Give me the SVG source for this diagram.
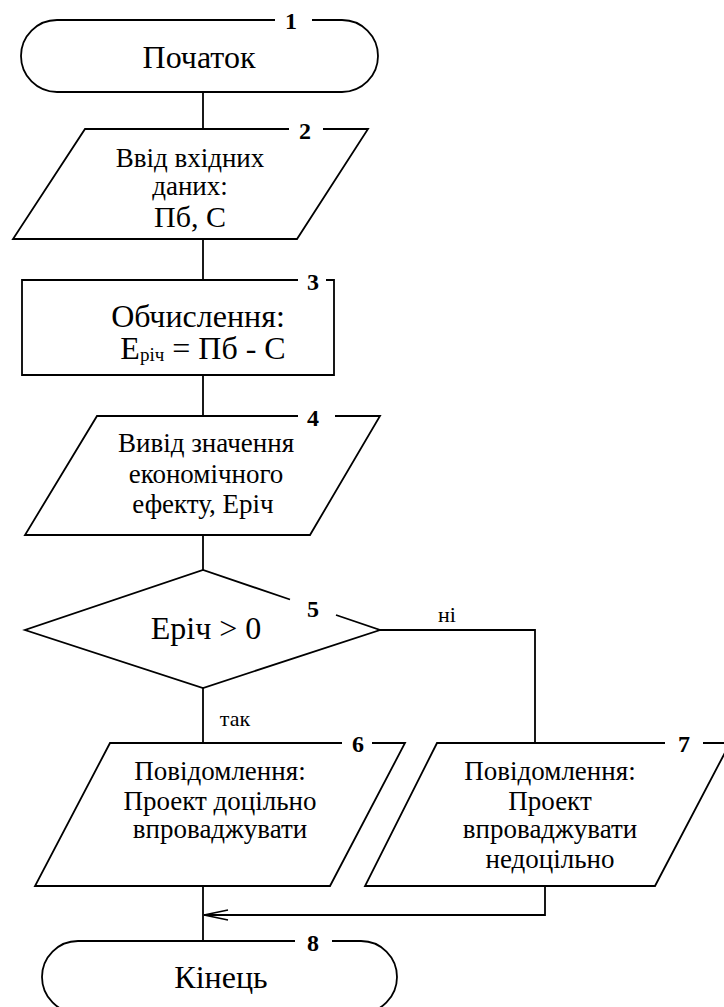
<svg xmlns="http://www.w3.org/2000/svg" width="724" height="1007" viewBox="0 0 724 1007">
<defs>
<style>
.s{fill:none;stroke:#000;stroke-width:1.8;stroke-linejoin:miter}
</style>
<marker id="arr" viewBox="0 0 26 12" refX="25" refY="6" markerWidth="26" markerHeight="12" markerUnits="userSpaceOnUse" orient="auto">
<path d="M1,1 L25,6 L1,11" fill="none" stroke="#000" stroke-width="1.6"/>
</marker>
</defs>
<rect width="724" height="1007" fill="#fff"/>
<g id="connectors">
<path class="s" d="M203,92 V129"/>
<path class="s" d="M203,239 V280"/>
<path class="s" d="M203,375 V416"/>
<path class="s" d="M203,535 V570"/>
<path class="s" d="M203,688 V743"/>
<path class="s" d="M380,630 H535 V743"/>
<path class="s" d="M203,886 V941"/>
<path class="s" d="M545,886 V915 H204" marker-end="url(#arr)"/>
<text font-family="'Liberation Serif', serif" font-size="22" text-anchor="middle" x="447" y="622">ні</text>
<text font-family="'Liberation Serif', serif" font-size="22" text-anchor="middle" x="235" y="726">так</text>
</g>
<g id="node1">
<path class="s" d="M275,20 H57 A36,36 0 0 0 57,92 H342 A36,36 0 0 0 342,20 H312"/>
<text font-family="'Liberation Serif', serif" font-weight="bold" font-size="24" text-anchor="middle" x="291" y="29">1</text>
<text font-family="'Liberation Serif', serif" font-size="32" text-anchor="middle" x="199" y="68">Початок</text>
</g>
<g id="node2">
<path class="s" d="M289,129 H85 L13,239 H297 L368,129 H323"/>
<text font-family="'Liberation Serif', serif" font-weight="bold" font-size="24" text-anchor="middle" x="305" y="139">2</text>
<text font-family="'Liberation Serif', serif" font-size="27" text-anchor="middle" x="190" y="167">Ввід вхідних</text>
<text font-family="'Liberation Serif', serif" font-size="27" text-anchor="middle" x="190" y="195">даних:</text>
<text font-family="'Liberation Serif', serif" font-size="30" text-anchor="middle" x="190" y="227">Пб, С</text>
</g>
<g id="node3">
<path class="s" d="M298,280 H22 V375 H334 V280 H326"/>
<text font-family="'Liberation Serif', serif" font-weight="bold" font-size="24" text-anchor="middle" x="313" y="290">3</text>
<text font-family="'Liberation Serif', serif" font-size="32" text-anchor="middle" x="198" y="327">Обчислення:</text>
<text font-family="'Liberation Serif', serif" font-size="32" text-anchor="middle" x="203" y="359">E<tspan font-size="19" dy="2">річ</tspan><tspan dy="-2"> = Пб - С</tspan></text>
</g>
<g id="node4">
<path class="s" d="M298,416 H97 L25,535 H310 L380,416 H335"/>
<text font-family="'Liberation Serif', serif" font-weight="bold" font-size="24" text-anchor="middle" x="313" y="426">4</text>
<text font-family="'Liberation Serif', serif" font-size="27" text-anchor="middle" x="206" y="452">Вивід значення</text>
<text font-family="'Liberation Serif', serif" font-size="27" text-anchor="middle" x="206" y="483">економічного</text>
<text font-family="'Liberation Serif', serif" font-size="27" text-anchor="middle" x="203" y="513">ефекту, Еріч</text>
</g>
<g id="node5">
<path class="s" d="M290,599.5 L203,570 L25,630 L203,688 L380,630 L336,615"/>
<text font-family="'Liberation Serif', serif" font-weight="bold" font-size="24" text-anchor="middle" x="313" y="617">5</text>
<text font-family="'Liberation Serif', serif" font-size="32" text-anchor="middle" x="206" y="639">Еріч &gt; 0</text>
</g>
<g id="node6">
<path class="s" d="M342,743 H110 L35,886 H330 L405,743 H372"/>
<text font-family="'Liberation Serif', serif" font-weight="bold" font-size="24" text-anchor="middle" x="358" y="752">6</text>
<text font-family="'Liberation Serif', serif" font-size="27" text-anchor="middle" x="220" y="780">Повідомлення:</text>
<text font-family="'Liberation Serif', serif" font-size="27" text-anchor="middle" x="220" y="810">Проект доцільно</text>
<text font-family="'Liberation Serif', serif" font-size="27" text-anchor="middle" x="220" y="838">впроваджувати</text>
</g>
<g id="node7">
<path class="s" d="M665,743 H437 L365,886 H655 L730,743 H703"/>
<text font-family="'Liberation Serif', serif" font-weight="bold" font-size="24" text-anchor="middle" x="684" y="752">7</text>
<text font-family="'Liberation Serif', serif" font-size="27" text-anchor="middle" x="550" y="780">Повідомлення:</text>
<text font-family="'Liberation Serif', serif" font-size="27" text-anchor="middle" x="550" y="810">Проект</text>
<text font-family="'Liberation Serif', serif" font-size="27" text-anchor="middle" x="550" y="838">впроваджувати</text>
<text font-family="'Liberation Serif', serif" font-size="27" text-anchor="middle" x="550" y="868">недоцільно</text>
</g>
<g id="node8">
<path class="s" d="M295,941 H78 A36,36 0 0 0 78,1013 H361 A36,36 0 0 0 361,941 H332"/>
<text font-family="'Liberation Serif', serif" font-weight="bold" font-size="24" text-anchor="middle" x="313" y="951">8</text>
<text font-family="'Liberation Serif', serif" font-size="32" text-anchor="middle" x="221" y="988">Кінець</text>
</g>
</svg>
